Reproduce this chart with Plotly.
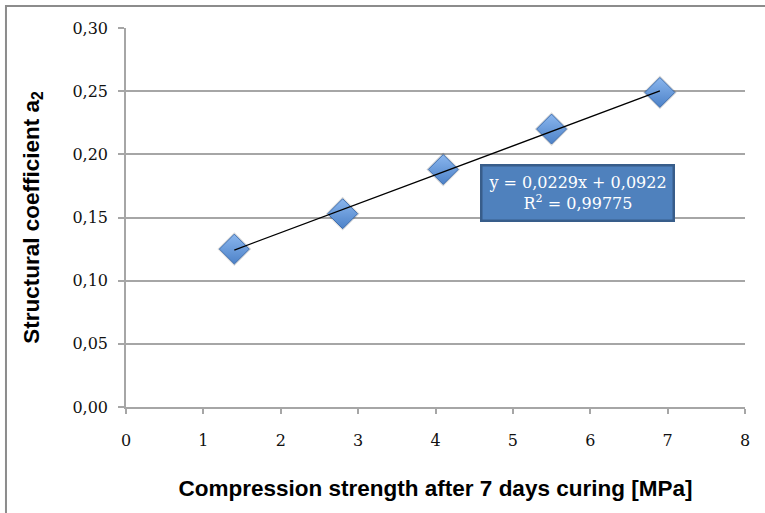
import plotly.graph_objects as go

# Data
strength = [1.4, 2.8, 4.1, 5.5, 6.9]
coef_a2 = [0.125, 0.153, 0.188, 0.220, 0.249]
slope = 0.0229
intercept = 0.0922
r2_text = "0,99775"
eq_text = "y = 0,0229x + 0,0922"

trend_x = [strength[0], strength[-1]]
trend_y = [slope * x + intercept for x in trend_x]

SERIF = "DejaVu Serif, Liberation Serif, serif"
SANS = "Liberation Sans, Arial, sans-serif"

fig = go.Figure()

# marker shadow
fig.add_trace(go.Scatter(
    x=strength, y=coef_a2, mode="markers",
    marker=dict(symbol="diamond", size=26, color="rgba(0,0,0,0.15)",
                line=dict(width=0)),
    showlegend=False, hoverinfo="skip"))

# markers
fig.add_trace(go.Scatter(
    x=strength, y=coef_a2, mode="markers",
    marker=dict(symbol="diamond", size=23, color="#8ab6ee",
                gradient=dict(type="vertical", color="#4d82c8"),
                line=dict(color="#3d6eb0", width=1)),
    showlegend=False))

# trendline
fig.add_trace(go.Scatter(
    x=trend_x, y=trend_y, mode="lines",
    line=dict(color="black", width=1.3),
    showlegend=False, hoverinfo="skip"))

fig.add_annotation(
    x=5.83, y=0.1694, xref="x", yref="y",
    text=eq_text + "<br>R<sup>2</sup> = " + r2_text,
    showarrow=False,
    font=dict(family=SERIF, size=16, color="white"),
    bgcolor="#4f81bd", bordercolor="#385d8a", borderwidth=2.5,
    width=188, height=51, align="center")

fig.update_layout(
    width=765, height=513,
    margin=dict(l=126, r=20, t=28, b=106),
    paper_bgcolor="white", plot_bgcolor="white",
    separators=",.",
    showlegend=False,
    font=dict(family=SERIF, size=16, color="#111"),
    shapes=[dict(type="rect", xref="paper", yref="paper",
                 x0=-0.1939, x1=1.1, y0=-0.4, y1=1.058,
                 line=dict(color="#8c8c8c", width=2), layer="below")],
)

fig.update_xaxes(
    range=[0, 8], dtick=1, tick0=0,
    showgrid=False, zeroline=False,
    showline=True, linecolor="#a6a6a6", linewidth=1.5,
    ticks="outside", ticklen=5, tickcolor="#a6a6a6", tickwidth=1.5,
    ticklabelstandoff=13,
    tickfont=dict(family=SERIF, size=16, color="#111"),
    title=dict(text="Compression strength after 7 days curing [MPa]",
               font=dict(family=SANS, size=22.5, color="black", weight="bold"),
               standoff=31),
)
fig.update_yaxes(
    range=[0, 0.30], dtick=0.05, tick0=0, tickformat=".2f",
    showgrid=True, gridcolor="#a6a6a6", gridwidth=1.5,
    zeroline=False,
    showline=True, linecolor="#a6a6a6", linewidth=1.5,
    ticks="outside", ticklen=6, tickcolor="#a6a6a6", tickwidth=1.5,
    ticklabelstandoff=7,
    tickfont=dict(family=SERIF, size=16, color="#111"),
    title=dict(text="Structural coefficient a<sub>2</sub>",
               font=dict(family=SANS, size=22.5, color="black", weight="bold"),
               standoff=27),
)

fig.write_html("out.html", config={"displayModeBar": False},
               post_script="document.body.style.margin='0px';")
